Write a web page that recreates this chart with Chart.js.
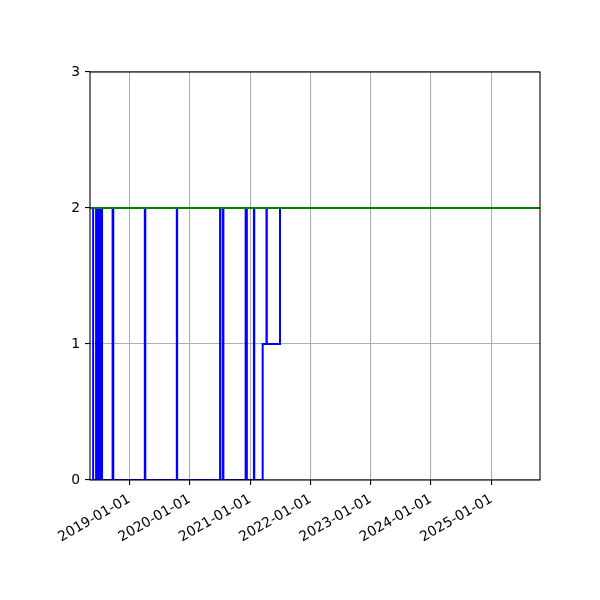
<!DOCTYPE html>
<html>
<head>
<meta charset="utf-8">
<script src="https://cdn.jsdelivr.net/npm/chart.js@4/dist/chart.umd.min.js"></script>
<style>
  html, body { margin: 0; padding: 0; background: #fff; }
</style>
</head>
<body>
<canvas id="chart" width="600" height="600"></canvas>
<script>
// step series: value holds from each date until the next one
const stepDates = [
  "2018-05-24", "2018-05-26",
  "2018-06-13", "2018-06-18", "2018-06-23", "2018-06-28",
  "2018-07-03", "2018-07-08", "2018-07-13", "2018-07-19",
  "2018-09-21", "2018-09-25",
  "2019-04-04", "2019-04-07",
  "2019-10-15", "2019-10-17",
  "2020-07-03", "2020-07-05",
  "2020-07-21", "2020-07-23",
  "2020-12-05", "2020-12-12",
  "2021-01-24", "2021-01-26",
  "2021-03-18", "2021-04-10", "2021-04-12",
  "2021-07-01", "2025-10-23"
];
const stepValues = [
  2, 0,
  2, 0, 2, 0,
  2, 0, 2, 0,
  2, 0,
  2, 0,
  2, 0,
  2, 0,
  2, 0,
  2, 0,
  2, 0,
  1, 2, 1,
  2, 2
];
const limitValue = 2;
const xMin = "2018-05-07";
const xMax = "2025-10-23";
const tickYears = [2019, 2020, 2021, 2022, 2023, 2024, 2025];
const yTicks = [0, 1, 2, 3];

const toMs = (s) => Date.parse(s + "T00:00:00Z");

const frame = {
  id: "frame",
  afterDatasetsDraw(chart) {
    const { ctx, chartArea: a } = chart;
    ctx.save();
    ctx.strokeStyle = "#000";
    ctx.lineWidth = 1.1;
    ctx.strokeRect(a.left, a.top, a.right - a.left, a.bottom - a.top);
    ctx.restore();
  },
};

const tickFont = { family: "DejaVu Sans", size: 13.9 };

new Chart(document.getElementById("chart").getContext("2d"), {
  type: "line",
  data: {
    datasets: [
      {
        data: [
          { x: toMs(xMin), y: limitValue },
          { x: toMs(xMax), y: limitValue },
        ],
        borderColor: "#008000",
        borderWidth: 2,
        pointRadius: 0,
        order: 0,
      },
      {
        data: stepDates.map((d, i) => ({ x: toMs(d), y: stepValues[i] })),
        borderColor: "#0000ff",
        borderWidth: 2,
        pointRadius: 0,
        stepped: "before",
        order: 1,
      },
    ],
  },
  options: {
    responsive: false,
    animation: false,
    layout: { padding: { top: 72, right: 60, left: 0, bottom: 0 } },
    plugins: { legend: { display: false }, tooltip: { enabled: false } },
    scales: {
      x: {
        type: "linear",
        min: toMs(xMin),
        max: toMs(xMax),
        afterBuildTicks: (scale) => {
          scale.ticks = tickYears.map((y) => ({ value: Date.UTC(y, 0, 1) }));
        },
        afterFit: (scale) => {
          scale.height = 120;
        },
        grid: { color: "#b0b0b0", lineWidth: 1.1, tickColor: "#000", tickLength: 5 },
        border: { display: false },
        ticks: {
          autoSkip: false,
          minRotation: 30,
          maxRotation: 30,
          color: "#000",
          font: tickFont,
          padding: 6,
          callback: (v) => new Date(v).toISOString().slice(0, 10),
        },
      },
      y: {
        min: 0,
        max: 3,
        afterBuildTicks: (scale) => {
          scale.ticks = yTicks.map((v) => ({ value: v }));
        },
        afterFit: (scale) => {
          scale.width = 90;
        },
        grid: { color: "#b0b0b0", lineWidth: 1.1, tickColor: "#000", tickLength: 5 },
        border: { display: false },
        ticks: { color: "#000", font: tickFont, padding: 5 },
      },
    },
  },
  plugins: [frame],
});
</script>
</body>
</html>
